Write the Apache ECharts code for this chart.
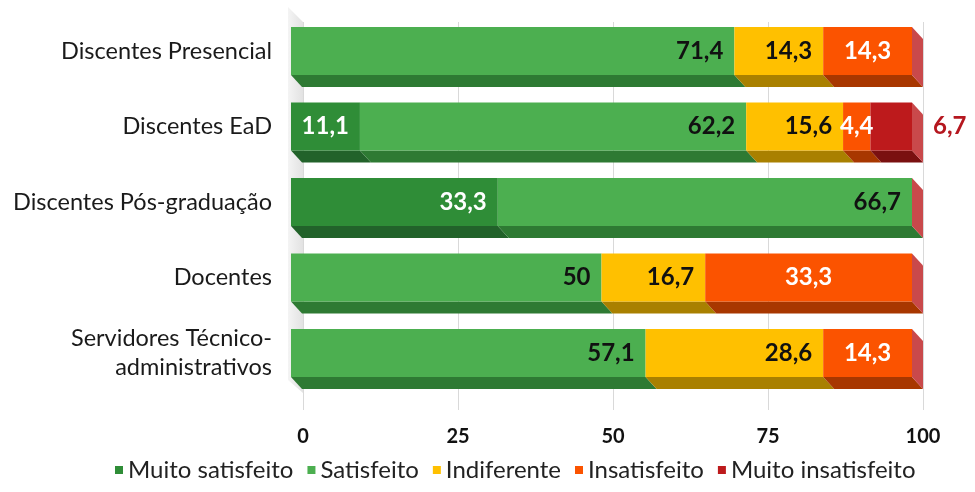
<!DOCTYPE html>
<html>
<head>
<meta charset="utf-8">
<script src="https://cdn.jsdelivr.net/npm/echarts@6/dist/echarts.min.js"></script>
<style>
  html, body { margin: 0; padding: 0; background: #fff; }
  #chart { width: 975px; height: 492px; }
</style>
</head>
<body>
<div id="chart"></div>
<script>
// categorias e valores (%)
var categories = ['Discentes Presencial', 'Discentes EaD', 'Discentes Pós-graduação', 'Docentes', 'Servidores Técnico-\nadministrativos'];
var seriesNames = ['Muito satisfeito', 'Satisfeito', 'Indiferente', 'Insatisfeito', 'Muito insatisfeito'];
var muitoSatisfeito = [0, 11.1, 33.3, 0, 0];
var satisfeito = [71.4, 62.2, 66.7, 50, 57.1];
var indiferente = [14.3, 15.6, 0, 16.7, 28.6];
var insatisfeito = [14.3, 4.4, 0, 33.3, 14.3];
var muitoInsatisfeito = [0, 6.7, 0, 0, 0];
var xTicks = [0, 25, 50, 75, 100];

var colors = ['#2f8d37', '#4caf50', '#ffc000', '#fb5300', '#bd1a1c'];
var darkColors = ['#22622a', '#2e7a33', '#a98000', '#a83700', '#7a1010'];
var capColor = '#c9494b';
var labelColors = ['#fff', '#111', '#111', '#fff', '#b5171f'];
var DX = 11, DY = 12;
var FONT = 'Lato, "Open Sans", sans-serif';

var allValues = [muitoSatisfeito, satisfeito, indiferente, insatisfeito, muitoInsatisfeito];

function fmt(v) {
    return String(v).replace('.', ',');
}

function renderItem(params, api) {
    var cat = api.value(0);
    var start = api.value(1);
    var end = api.value(2);
    var v = api.value(3);
    var s = params.seriesIndex;
    var a = api.coord([start, cat]);
    var b = api.coord([end, cat]);
    var h = api.size([0, 1])[1] * 0.636;
    var yt = a[1] - h / 2, yb = a[1] + h / 2;
    var x0 = a[0], x1 = b[0];
    var children = [];
    if (v > 0) {
        children.push({
            type: 'polygon',
            shape: { points: [[x0, yb], [x1, yb], [x1 + DX, yb + DY], [x0 + DX, yb + DY]] },
            style: { fill: darkColors[s] }
        });
        children.push({
            type: 'rect',
            shape: { x: x0, y: yt, width: x1 - x0, height: h },
            style: { fill: colors[s] }
        });
    }
    if (s === 4) {
        // face lateral do fim da barra
        children.push({
            type: 'polygon',
            shape: { points: [[x1, yt], [x1 + DX, yt + DY], [x1 + DX, yb + DY], [x1, yb]] },
            style: { fill: capColor }
        });
    }
    if (v > 0) {
        var tx, align;
        if (s === 3) { tx = (x0 + x1) / 2; align = 'center'; }
        else if (s === 4) { tx = x1 + DX + 10; align = 'left'; }
        else { tx = x1 - 11; align = 'right'; }
        children.push({
            type: 'text',
            x: tx,
            y: a[1],
            z2: 10,
            style: {
                text: fmt(v),
                fill: labelColors[s],
                align: align,
                verticalAlign: 'middle',
                fontSize: 24,
                fontWeight: 'bold',
                fontFamily: FONT
            }
        });
    }
    return { type: 'group', children: children };
}

var series = [];
var acc = [0, 0, 0, 0, 0];
for (var s = 0; s < seriesNames.length; s++) {
    var data = [];
    for (var i = 0; i < categories.length; i++) {
        var v = allValues[s][i];
        data.push([i, acc[i], acc[i] + v, v]);
        acc[i] += v;
    }
    series.push({
        name: seriesNames[s],
        type: 'custom',
        xAxisIndex: 0,
        yAxisIndex: 0,
        renderItem: renderItem,
        encode: { x: [1, 2], y: 0 },
        itemStyle: { color: colors[s] },
        data: data,
        z: 5
    });
}

var myChart = echarts.init(document.getElementById('chart'));
var option = {
    backgroundColor: '#fff',
    animation: false,
    color: colors,
    textStyle: { fontFamily: FONT },
    grid: [
        { left: 291, right: 63, top: 13.25, bottom: 101.25 },
        { left: 303, right: 52, top: 22, bottom: 82 }
    ],
    graphic: [{
        type: 'polygon',
        z: 0,
        shape: { points: [[288, 7], [303, 22], [303, 393], [288, 380]] },
        style: {
            fill: new echarts.graphic.LinearGradient(0, 0, 1, 0, [
                { offset: 0, color: '#f4f4f4' },
                { offset: 1, color: '#e2e2e2' }
            ])
        }
    }],
    legend: {
        bottom: 5,
        left: 110,
        icon: 'rect',
        itemWidth: 8,
        itemHeight: 8,
        itemGap: 14,
        textStyle: { fontSize: 24, color: '#222', fontFamily: FONT },
        data: seriesNames
    },
    xAxis: [
        {
            gridIndex: 0, type: 'value', min: 0, max: 100,
            axisLine: { show: false }, axisTick: { show: false },
            axisLabel: { show: false }, splitLine: { show: false }
        },
        {
            gridIndex: 1, type: 'value', min: 0, max: 100, interval: 25,
            axisLine: { show: false }, axisTick: { show: false },
            axisLabel: {
                margin: 17, fontSize: 20, fontWeight: 'bold', color: '#111',
                formatter: function (v) { return xTicks.indexOf(v) >= 0 ? String(v) : ''; }
            },
            splitLine: { show: true, lineStyle: { color: '#d9d9d9', width: 1 } }
        }
    ],
    yAxis: [
        {
            gridIndex: 0, type: 'category', inverse: true, data: categories,
            axisLine: { show: false }, axisTick: { show: false },
            axisLabel: { margin: 19, fontSize: 23.5, lineHeight: 29, color: '#1a1a1a', align: 'right' }
        },
        {
            gridIndex: 1, type: 'category', inverse: true, data: categories,
            axisLine: { show: false }, axisTick: { show: false },
            axisLabel: { show: false }, splitLine: { show: false }
        }
    ],
    series: series
};
myChart.setOption(option);
</script>
</body>
</html>
